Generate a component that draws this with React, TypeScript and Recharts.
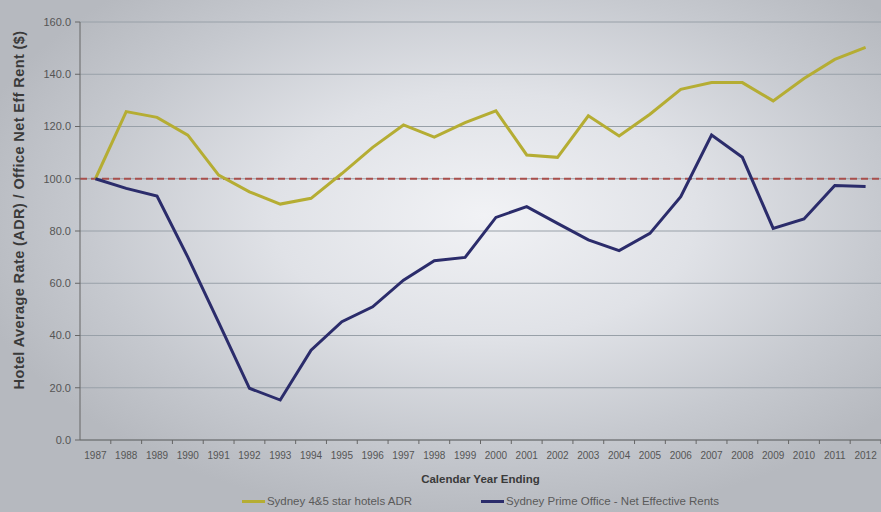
import React from 'react';
import { LineChart, Line, XAxis, YAxis, CartesianGrid, ReferenceLine, Legend } from 'recharts';

const years = ['1987','1988','1989','1990','1991','1992','1993','1994','1995','1996','1997','1998','1999','2000','2001','2002','2003','2004','2005','2006','2007','2008','2009','2010','2011','2012'];
const hotelADR = [100, 125.7, 123.5, 116.7, 101.4, 95, 90.3, 92.5, 102, 112, 120.6, 115.9, 121.5, 126, 109.1, 108.2, 124.1, 116.4, 124.7, 134.2, 136.8, 136.8, 129.8, 138.4, 145.7, 150.3];
const officeRent = [100, 96.3, 93.4, 70, 45, 19.8, 15.3, 34.4, 45.3, 51, 61.2, 68.6, 69.9, 85.2, 89.3, 82.9, 76.6, 72.5, 79.1, 93.1, 116.7, 108.2, 81, 84.6, 97.4, 97];
const yTicks = [0, 20, 40, 60, 80, 100, 120, 140, 160];
const baseline = 100;

const SERIES = [
  { key: 'hotel', name: 'Sydney 4&5 star hotels ADR', color: '#b5ad33' },
  { key: 'office', name: 'Sydney Prime Office - Net Effective Rents', color: '#2b2c6b' },
];

const data = years.map((y, i) => ({ year: y, hotel: hotelADR[i], office: officeRent[i] }));

const FONT = '"Liberation Sans", Arial, sans-serif';

const XTick = (props: any) => {
  const { x, y, payload, width } = props;
  const band = width / years.length;
  return (
    <g>
      <line x1={x + band / 2} x2={x + band / 2} y1={440} y2={444} stroke="#666" strokeWidth={1} />
      <text x={x} y={y} dy={9} textAnchor="middle" fontSize={10} fill="#555" fontFamily={FONT}>
        {payload.value}
      </text>
    </g>
  );
};

const YTitle = (props: any) => {
  const vb = props.viewBox || {};
  const cx = 18.5;
  const cy = vb.y + vb.height / 2 - 21;
  return (
    <text
      x={cx}
      y={cy}
      transform={`rotate(-90 ${cx} ${cy})`}
      textAnchor="middle"
      dominantBaseline="central"
      fontSize={14.5}
      fontWeight="bold"
      fill="#3a3a3a"
      fontFamily={FONT}
      letterSpacing={0.4}
    >
      Hotel Average Rate (ADR) / Office Net Eff Rent ($)
    </text>
  );
};

const LegendContent = () => (
  <div
    style={{
      display: 'flex',
      justifyContent: 'center',
      alignItems: 'center',
      paddingLeft: 80,
      height: 22,
      gap: 69,
      fontFamily: FONT,
      fontSize: 11.5,
      color: '#5a5a5a',
    }}
  >
    {SERIES.map((s) => (
      <div key={s.key} style={{ display: 'flex', alignItems: 'center' }}>
        <span style={{ display: 'inline-block', width: 23, height: 3, background: s.color, marginRight: 2 }} />
        <span>{s.name}</span>
      </div>
    ))}
  </div>
);

export default function App() {
  return (
    <div
      style={{
        position: 'absolute',
        left: 0,
        top: 0,
        width: 881,
        height: 512,
        overflow: 'hidden',
        background:
          'radial-gradient(ellipse 60% 60% at 55% 42%, #f1f2f5 0%, #e0e2e7 40%, #c6c9cf 75%, #b6b9bf 100%)',
      }}
    >
      <LineChart width={881} height={512} data={data} margin={{ top: 22, right: 0, bottom: 0, left: 0 }}>
        <CartesianGrid vertical={false} stroke="#98a0a8" strokeWidth={1} />
        <XAxis
          dataKey="year"
          type="category"
          scale="band"
          interval={0}
          height={50}
          tickLine={false}
          tickMargin={4}
          stroke="#666"
          tick={<XTick />}
          label={{
            value: 'Calendar Year Ending',
            position: 'insideBottom',
            offset: 7,
            style: { fontSize: 11.5, fontWeight: 'bold', fill: '#3a3a3a', fontFamily: FONT },
          }}
        />
        <YAxis
          domain={[0, 160]}
          ticks={yTicks}
          width={80}
          tickSize={5}
          tickMargin={4}
          stroke="#666"
          tickFormatter={(v: number) => v.toFixed(1)}
          tick={{ fontSize: 11, fill: '#555', fontFamily: FONT }}
          label={<YTitle />}
        />
        <ReferenceLine y={baseline} stroke="#a94f4c" strokeWidth={2} strokeDasharray="7 4" />
        {SERIES.map((s) => (
          <Line
            key={s.key}
            dataKey={s.key}
            name={s.name}
            stroke={s.color}
            strokeWidth={3}
            dot={false}
            activeDot={false}
            isAnimationActive={false}
            type="linear"
          />
        ))}
        <Legend verticalAlign="bottom" height={22} content={<LegendContent />} />
      </LineChart>
    </div>
  );
}
